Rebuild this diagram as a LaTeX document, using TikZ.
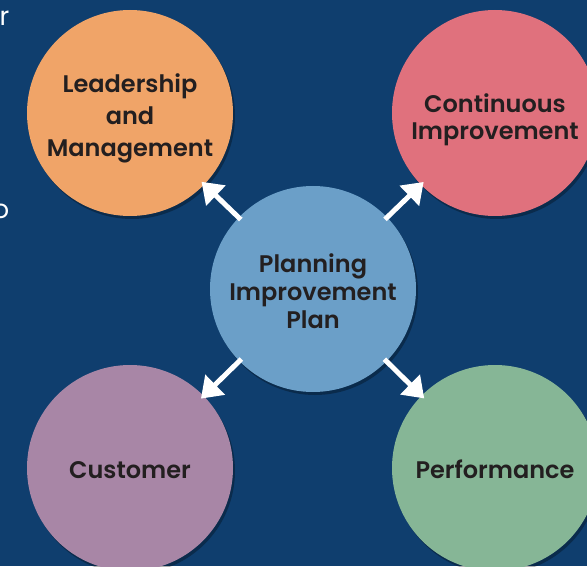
\documentclass[tikz,border=0pt]{standalone}
\usepackage{fontspec}
\setmainfont{Poppins}[BoldFont={Poppins SemiBold}]
\usetikzlibrary{arrows.meta, positioning, shadows}
\definecolor{navy}{HTML}{0F3E6E}
\definecolor{ink}{HTML}{231F20}
\definecolor{hubblue}{HTML}{6B9FC8}
\definecolor{peach}{HTML}{F0A468}
\definecolor{rose}{HTML}{E0717D}
\definecolor{mauve}{HTML}{A886A6}
\definecolor{sage}{HTML}{86B696}
\tikzset{
  hub/.style={circle, minimum size=206pt, inner sep=0pt, align=center, text=ink,
    fill=hubblue, font=\bfseries\fontsize{24}{28}\selectfont,
    text height=20pt, text depth=0pt,
    drop shadow={shadow xshift=2pt, shadow yshift=-3pt, opacity=0.3, fill=black}},
  spoke/.style={hub, on grid},
  push/.style={-{Triangle[length=20pt, width=27pt]}, line width=5pt, white,
    shorten <=-3pt, shorten >=-4pt},
  edgetext/.style={text=white, font=\fontsize{26}{30}\selectfont, inner sep=0pt},
}
\begin{document}
\begin{tikzpicture}[x=1pt, y=1pt]
\useasboundingbox (0,0) rectangle (587,566);
\clip (0,0) rectangle (587,566);
\fill[navy] (0,0) rectangle (587,566);
% cut-off words at the left edge
\node[edgetext, anchor=base east] (tailr) at (9.5,540) {r};
\node[edgetext, anchor=base] (tailo) at (1,347) {o};
% hub and the four areas round it
\node[hub, text height=79pt] (plan) at (313,277) {Planning\\Improvement\\Plan};
\node[spoke, fill=peach, above left=176pt and 183pt of plan,
  font=\bfseries\fontsize{24}{32}\selectfont, text height=87pt] (lead) {Leadership\\and\\Management};
\node[spoke, fill=rose, above right=176pt and 182pt of plan, font=\bfseries\fontsize{24}{27}\selectfont,
  text height=54pt] (cont) {Continuous\\Improvement};
\node[spoke, fill=mauve, below left=179pt and 183pt of plan] (cust) {Customer};
\node[spoke, fill=sage, below right=179pt and 182pt of plan] (perf) {Performance};
\draw[push] (plan) -- (lead);
\draw[push] (plan) -- (cont);
\draw[push] (plan) -- (cust);
\draw[push] (plan) -- (perf);
\end{tikzpicture}
\end{document}
